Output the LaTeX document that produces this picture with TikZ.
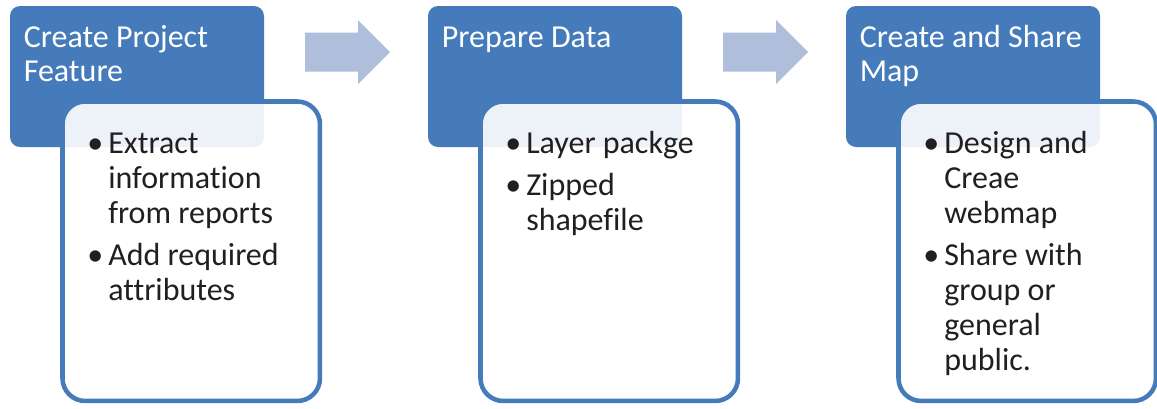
\documentclass[tikz,border=0pt]{standalone}
\usepackage{fontspec}
\setmainfont[Ligatures=NoCommon]{Carlito}
\usepackage{xcolor}
\usetikzlibrary{calc,positioning}
\definecolor{stepblue}{RGB}{69,123,186}
\definecolor{flowblue}{RGB}{174,190,219}
\definecolor{listblack}{RGB}{35,31,32}
\newcommand{\bul}{\makebox[15.75pt][l]{\textbullet}}

\begin{document}
\begin{tikzpicture}[
  x=0.75pt,y=-0.75pt,
  head/.style={fill=stepblue,rounded corners=7.5pt,minimum width=190.5pt,minimum height=105.75pt,inner sep=0pt,outer sep=0pt},
  body/.style={draw=stepblue,line width=3.4pt,fill=white,fill opacity=0.9,rounded corners=17pt,minimum width=193.1pt,minimum height=224.6pt,inner sep=0pt,outer sep=0pt},
  headtext/.style={anchor=base west,inner sep=0pt,text=white,font=\fontsize{24}{25.9}\selectfont},
  listtext/.style={anchor=base west,inner sep=0pt,text=listblack,font=\fontsize{24}{26.25}\selectfont},
  flow/.style={fill=flowblue}
]
\useasboundingbox (0,0) rectangle (1157,408);
% title boxes
\node[head,anchor=north west] (h1) at (10,6) {};
\node[head,right=123pt of h1] (h2) {};
\node[head,right=123pt of h2] (h3) {};
% list boxes, lying over the lower right of each title box
\node[body,anchor=north west] (b1) at ($(h1.north west)+(52.5,95.5)$) {};
\node[body,anchor=north west] (b2) at ($(h2.north west)+(52.5,95.5)$) {};
\node[body,anchor=north west] (b3) at ($(h3.north west)+(52.5,95.5)$) {};
% titles
\node[headtext] (t1) at ($(h1.north west)+(13.5,41)$) {\begin{tabular}[t]{@{}l@{}}Create Project\\Feature\end{tabular}};
\node[headtext] (t2) at ($(h2.north west)+(13.5,41)$) {\begin{tabular}[t]{@{}l@{}}Prepare Data\end{tabular}};
\node[headtext] (t3) at ($(h3.north west)+(13.5,41)$) {\begin{tabular}[t]{@{}l@{}}Create and Share\\Map\end{tabular}};
% bullet lists
\node[listtext] (l1) at ($(b1.north west)+(24.5,51.5)$) {\begin{tabular}[t]{@{}l@{}l@{}}
  \bul&Extract\\&information\\&from reports\\[5.25pt]
  \bul&Add required\\&attributes\end{tabular}};
\node[listtext] (l2) at ($(b2.north west)+(24.5,51.5)$) {\begin{tabular}[t]{@{}l@{}l@{}}
  \bul&Layer packge\\[5.25pt]
  \bul&Zipped\\&shapefile\end{tabular}};
\node[listtext] (l3) at ($(b3.north west)+(24.5,51.5)$) {\begin{tabular}[t]{@{}l@{}l@{}}
  \bul&Design and\\&Creae\\&webmap\\[5.25pt]
  \bul&Share with\\&group or\\&general\\&public.\end{tabular}};
% block arrows between the steps
\fill[flow] ($(h1.north east)+(41,26.5)$) -- ++(53,0) -- ++(0,-12.5) -- ++(32,32) -- ++(-32,32) -- ++(0,-12.5) -- ++(-53,0) -- cycle;
\fill[flow] ($(h2.north east)+(41,26.5)$) -- ++(53,0) -- ++(0,-12.5) -- ++(32,32) -- ++(-32,32) -- ++(0,-12.5) -- ++(-53,0) -- cycle;
\end{tikzpicture}
\end{document}
